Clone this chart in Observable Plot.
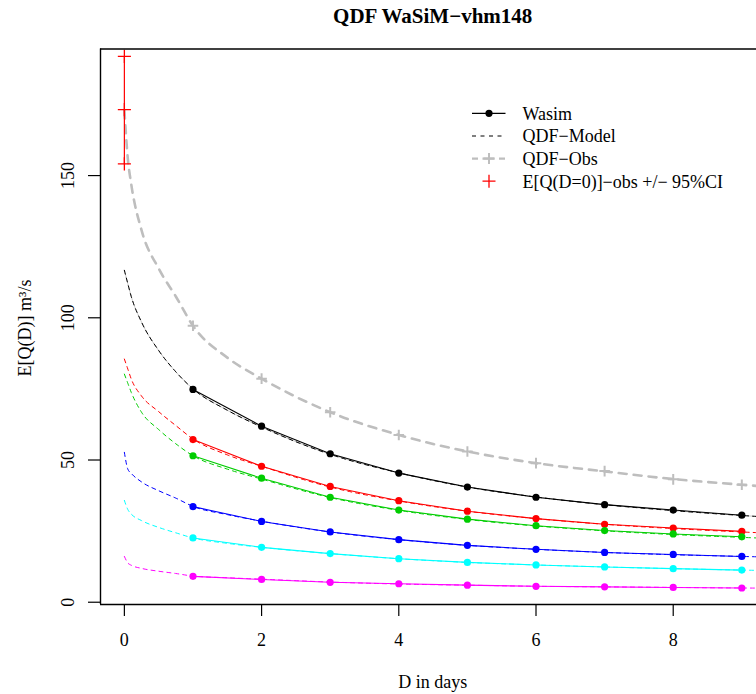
<!DOCTYPE html>
<html><head><meta charset="utf-8">
<script src="https://cdn.jsdelivr.net/npm/d3@7"></script>
<script src="https://cdn.jsdelivr.net/npm/@observablehq/plot@0.6"></script>
<style>
html,body{margin:0;padding:0;background:#fff;overflow:hidden}
#wrap{position:relative;width:756px;height:694px}
#overlay{position:absolute;left:0;top:0;pointer-events:none}
</style></head><body><div id="wrap"></div>
<script>
// ---- data ----
const days = [1, 2, 3, 4, 5, 6, 7, 8, 9];
const seriesColors = ["#000000", "#FF0000", "#00CD00", "#0000FF", "#00FFFF", "#FF00FF"];

// Wasim simulated E[Q(D)] (points, days 1..9)
const wasimBlack   = [74.8, 61.9, 52.2, 45.4, 40.5, 36.9, 34.3, 32.4, 30.6];
const wasimRed     = [57.2, 47.8, 40.7, 35.7, 32.0, 29.4, 27.4, 26.1, 24.9];
const wasimGreen   = [51.5, 43.6, 36.9, 32.4, 29.2, 26.9, 25.2, 24.0, 23.0];
const wasimBlue    = [33.6, 28.4, 24.7, 22.0, 20.0, 18.6, 17.5, 16.8, 16.1];
const wasimCyan    = [22.6, 19.3, 17.1, 15.3, 14.0, 13.1, 12.4, 11.8, 11.3];
const wasimMagenta = [9.1, 8.0, 7.0, 6.5, 6.0, 5.6, 5.4, 5.2, 5.0];

// QDF model curves
const modelD       = [0, 0.05, 0.1, 0.25, 0.5, 0.75, 1, 1.5, 2, 3, 4, 5, 6, 7, 8, 9, 10];
const modelBlack   = [116.7, 112.0, 107.5, 98.5, 88.5, 81.0, 75.0, 67.5, 61.6, 52.0, 45.5, 40.5, 37.0, 34.3, 32.2, 30.5, 29.0];
const modelRed     = [85.5, 82.0, 78.5, 72.5, 67.0, 62.1, 57.4, 51.8, 47.8, 40.5, 35.6, 32.0, 29.4, 27.4, 25.9, 24.7, 23.7];
const modelGreen   = [80.2, 77.0, 73.8, 66.8, 60.7, 55.7, 51.5, 46.8, 43.3, 36.8, 32.3, 29.1, 26.8, 25.1, 23.8, 22.8, 21.9];
const modelBlue    = [52.7, 46.8, 45.3, 42.3, 39.2, 36.6, 33.7, 30.8, 28.5, 24.7, 22.0, 20.0, 18.6, 17.5, 16.7, 16.1, 15.5];
const modelCyan    = [35.8, 32.6, 31.0, 28.7, 26.3, 24.4, 22.6, 20.7, 19.3, 17.1, 15.3, 14.0, 13.1, 12.4, 11.8, 11.3, 10.9];
const modelMagenta = [16.1, 13.8, 13.0, 11.9, 10.9, 10.1, 9.2, 8.6, 8.1, 7.1, 6.4, 6.0, 5.6, 5.4, 5.2, 5.0, 4.9];

// Observed QDF (points) and fitted curve
const obsPoints = [97.2, 78.6, 66.8, 58.8, 53.0, 48.9, 46.1, 43.2, 41.3];
const obsModel  = [173.0, 156.0, 147.0, 130.8, 117.3, 107.5, 97.2, 86.0, 78.6, 66.8, 58.8, 53.0, 48.9, 46.0, 43.3, 41.3, 39.5];

// E[Q(D=0)] observed with 95% CI
const q0D = [0, 0, 0];
const q0Obs = [154.1, 173.2, 191.9];

const xTicks = [0, 2, 4, 6, 8];
const yTicks = [0, 50, 100, 150];
const xDomain = [-0.348, 9.214];
const yDomain = [-0.8, 194.5];

const titleText = "QDF WaSiM\u2212vhm148";
const xLabel = "D in days";
const yLabel = "E[Q(D)] m\u00B3/s";
const legendLabels = ["Wasim", "QDF\u2212Model", "QDF\u2212Obs", "E[Q(D=0)]\u2212obs +/\u2212 95%CI"];

// ---- tables ----
const wasimSeries = [wasimBlack, wasimRed, wasimGreen, wasimBlue, wasimCyan, wasimMagenta];
const modelSeries = [modelBlack, modelRed, modelGreen, modelBlue, modelCyan, modelMagenta];
const pointTable = wasimSeries.flatMap((vals, s) => vals.map((q, i) => ({s, d: days[i], q, c: seriesColors[s]})));
const modelTable = modelSeries.flatMap((vals, s) => vals.map((q, i) => ({s, d: modelD[i], q, c: seriesColors[s]})));
const obsPtTable = obsPoints.map((q, i) => ({d: days[i], q}));
const obsModelTable = obsModel.map((q, i) => ({d: modelD[i], q}));
const q0Table = q0Obs.map((q, i) => ({d: q0D[i], q}));
const blackModelTable = modelTable.filter(r => r.s === 0);

const gray = "#BEBEBE";

const chart = Plot.plot({
  width: 756,
  height: 694,
  marginLeft: 100,
  marginRight: 0,
  marginTop: 48.5,
  marginBottom: 90,
  style: {fontFamily: "'Liberation Serif', 'DejaVu Serif', serif", fontSize: "18px", background: "white", color: "#000"},
  x: {domain: xDomain, axis: null},
  y: {domain: yDomain, axis: null},
  color: {type: "identity"},
  marks: [
    // fitted obs curve
    Plot.line(obsModelTable, {x: "d", y: "q", stroke: gray, strokeWidth: 2.6, strokeDasharray: "8,7", curve: "monotone-x", clip: true}),
    // light underlay of black model
    Plot.line(blackModelTable, {x: "d", y: "q", stroke: "#C8C8C8", strokeWidth: 1, curve: "monotone-x", clip: true}),
    // model dashed curves
    Plot.line(modelTable, {x: "d", y: "q", z: "s", stroke: "c", strokeWidth: 1, strokeDasharray: "4,4", curve: "monotone-x", clip: true}),
    // Wasim lines
    Plot.line(pointTable, {x: "d", y: "q", z: "s", stroke: "c", strokeWidth: 1.1, clip: true}),
    Plot.dot(pointTable, {x: "d", y: "q", fill: "c", r: 3.6, clip: true}),
    // obs points
    Plot.dot(obsPtTable, {x: "d", y: "q", symbol: "plus", stroke: gray, strokeWidth: 2, r: 3.5, clip: true}),
    // E[Q(D=0)] with CI
    Plot.line(q0Table, {x: "d", y: "q", stroke: "#FF0000", strokeWidth: 1.2}),
    Plot.dot(q0Table, {x: "d", y: "q", symbol: "plus", stroke: "#FF0000", strokeWidth: 1.3, r: 4.3}),
    // frame (top, left, bottom)
    Plot.ruleY([yDomain[1]], {stroke: "#000", strokeWidth: 1.4}),
    Plot.ruleY([yDomain[0]], {stroke: "#000", strokeWidth: 1.4}),
    Plot.ruleX([xDomain[0]], {stroke: "#000", strokeWidth: 1.4}),
    // axes
    Plot.axisX({ticks: xTicks, tickSize: 12, tickPadding: 17, label: null, anchor: "bottom", stroke: "#000", strokeWidth: 1.2}),
    Plot.axisY({ticks: yTicks, tickSize: 12, tickFormat: () => "", label: null, anchor: "left", stroke: "#000", strokeWidth: 1.2}),
    Plot.text(yTicks, {y: d => d, frameAnchor: "left", dx: -32.5, text: d => String(d), rotate: -90, textAnchor: "middle", lineAnchor: "middle", fontSize: 18})
  ]
});
document.getElementById("wrap").appendChild(chart);

// ---- overlay: title, axis labels, legend ----
const ov = d3.select("#wrap").append("svg").attr("id", "overlay").attr("width", 756).attr("height", 694)
  .style("font-family", "'Liberation Serif', 'DejaVu Serif', serif");
ov.append("text").attr("x", 432.7).attr("y", 23).attr("text-anchor", "middle")
  .attr("font-size", 21).attr("font-weight", "bold").text(titleText);
ov.append("text").attr("x", 432.7).attr("y", 688).attr("text-anchor", "middle").attr("font-size", 18).text(xLabel);
ov.append("text").attr("transform", "translate(31,328) rotate(-90)").attr("text-anchor", "middle").attr("font-size", 18).text(yLabel);

const lg = ov.append("g");
const rowY = [113.3, 136, 158.6, 181.2];
legendLabels.forEach((t, i) => {
  lg.append("text").attr("x", 522.5).attr("y", rowY[i] + 6.3).attr("font-size", 18).text(t);
});
// Wasim
lg.append("line").attr("x1", 472).attr("x2", 505.5).attr("y1", rowY[0]).attr("y2", rowY[0]).attr("stroke", "#000").attr("stroke-width", 1.2);
lg.append("circle").attr("cx", 489).attr("cy", rowY[0]).attr("r", 3.6).attr("fill", "#000");
// QDF-Model
lg.append("line").attr("x1", 472).attr("x2", 505.5).attr("y1", rowY[1]).attr("y2", rowY[1]).attr("stroke", "#000").attr("stroke-width", 1).attr("stroke-dasharray", "4,4.5");
// QDF-Obs
lg.append("line").attr("x1", 472).attr("x2", 505.5).attr("y1", rowY[2]).attr("y2", rowY[2]).attr("stroke", gray).attr("stroke-width", 2.4).attr("stroke-dasharray", "6,4.5,12,4.5,6");
lg.append("path").attr("d", `M${489-5.5},${rowY[2]}h11M489,${rowY[2]-5.5}v11`).attr("stroke", gray).attr("stroke-width", 2);
// E[Q(D=0)]
lg.append("path").attr("d", `M${489-6.5},${rowY[3]}h13M489,${rowY[3]-6.5}v13`).attr("stroke", "#FF0000").attr("stroke-width", 1.3);
</script></body></html>
